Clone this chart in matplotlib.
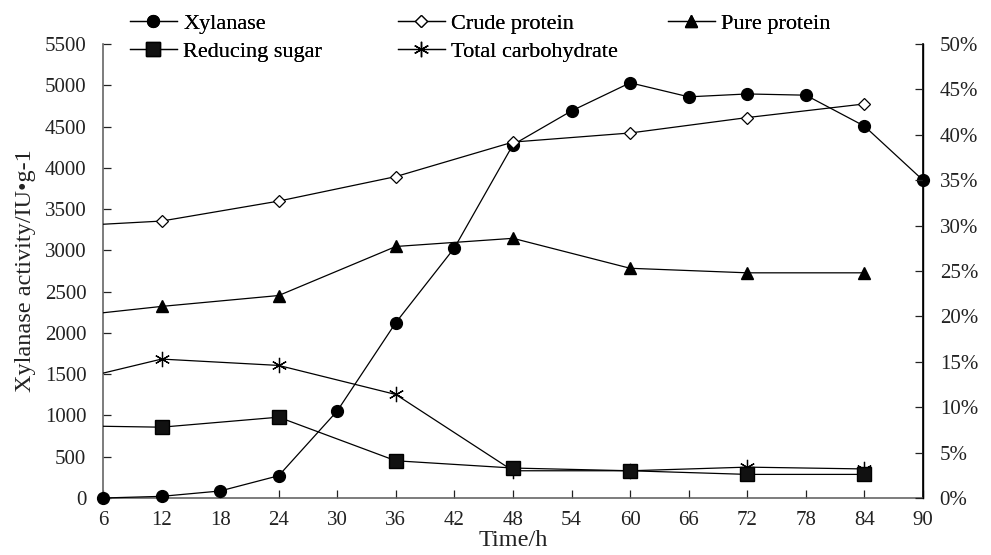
import numpy as np
import matplotlib.pyplot as plt
from matplotlib.ticker import FuncFormatter

plt.rcParams['font.family'] = ['Liberation Serif', 'DejaVu Serif']

# xylanase activity (IU/g), left axis
t_xyl = [6, 12, 18, 24, 30, 36, 42, 48, 54, 60, 66, 72, 78, 84, 90]
xylanase = [0, 20, 85, 270, 1055, 2125, 3030, 4280, 4690, 5030, 4860, 4895, 4880, 4505, 3850]

# composition (%), right axis; first point at 0 h lies outside the plotted range
t_comp = [0, 12, 24, 36, 48, 60, 72, 84]
crude_protein = [29.8, 30.5, 32.7, 35.4, 39.2, 40.2, 41.9, 43.4]
pure_protein = [19.7, 21.1, 22.3, 27.7, 28.6, 25.3, 24.8, 24.8]
reducing_sugar = [8.0, 7.8, 8.9, 4.1, 3.3, 3.0, 2.6, 2.6]
total_carb = [12.2, 15.3, 14.6, 11.4, 3.0, 3.0, 3.4, 3.2]

fig = plt.figure(figsize=(9.91, 5.55), dpi=100)
ax = fig.add_axes([0.1039, 0.1027, 0.8275, 0.818])
ax2 = ax.twinx()

lw = 0.9
l1, = ax.plot(t_xyl, xylanase, color='black', lw=lw, marker='o', ms=8.5,
              label='Xylanase', clip_on=False, zorder=5)
l2, = ax2.plot(t_comp, crude_protein, color='black', lw=lw, marker='D', ms=6,
               mfc='white', mew=0.9, label='Crude protein')
l3, = ax2.plot(t_comp, pure_protein, color='black', lw=lw, marker='^', ms=9,
               label='Pure protein')
l4, = ax2.plot(t_comp, total_carb, color='black', lw=lw, marker=(6, 2, 0), ms=11,
               mew=0.9, label='Total carbohydrate')
l5, = ax2.plot(t_comp, reducing_sugar, color='black', lw=lw, marker='s', ms=9.5,
               mfc='#111111', label='Reducing sugar')

ax.set_xlim(6, 90)
ax.set_ylim(0, 5500)
ax2.set_ylim(0, 50)
ax.set_xticks(np.arange(6, 91, 6))
ax.set_yticks(np.arange(0, 5501, 500))
ax2.set_yticks(np.arange(0, 51, 5))
ax2.yaxis.set_major_formatter(FuncFormatter(lambda v, p: f'{v:.0f}%'))

for a in (ax, ax2):
    a.spines['top'].set_visible(False)
    a.tick_params(direction='in', length=6, width=0.9, labelsize=15, colors='#222222')
ax.tick_params(axis='x', pad=9)
ax.tick_params(axis='y', pad=12)
ax2.tick_params(axis='y', pad=12)
ax.spines['left'].set_color('#666666')
ax.spines['bottom'].set_color('#666666')
ax2.spines['left'].set_visible(False)
ax2.spines['bottom'].set_visible(False)
ax2.spines['right'].set_color('black')
for s in ('left', 'bottom', 'right'):
    ax.spines[s].set_linewidth(1.2)
    ax2.spines[s].set_linewidth(1.0)

ax.set_xlabel('Time/h', fontsize=17.5, labelpad=0, color='#222222')
ax.set_ylabel('Xylanase activity/IU•g-1', fontsize=17.5, labelpad=6, color='#222222')

# one legend per column, placed like the original
legend_cols = [([l1, l5], 130), ([l2, l4], 398), ([l3], 668)]
for handles, xpix in legend_cols:
    leg = fig.legend(handles=handles, loc='upper left',
                     bbox_to_anchor=(xpix / 991, 1 - 13 / 555), frameon=False,
                     fontsize=16, handlelength=2.1, handletextpad=0.3,
                     labelspacing=0.35, borderpad=0, borderaxespad=0)
    fig.add_artist(leg)

fig.savefig('out.png', dpi=100)
